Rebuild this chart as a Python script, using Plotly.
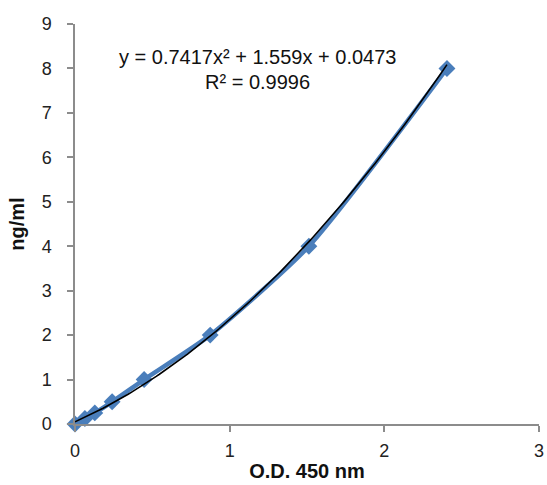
import numpy as np
import plotly.graph_objects as go

od450 = [0.0, 0.064, 0.128, 0.24, 0.447, 0.874, 1.512, 2.405]
conc = [0.0, 0.125, 0.25, 0.5, 1.0, 2.0, 4.0, 8.0]
trend_coef = [0.7417, 1.559, 0.0473]  # from the equation shown on the chart
x_ticks = [0, 1, 2, 3]
y_ticks = [0, 1, 2, 3, 4, 5, 6, 7, 8, 9]

xt = np.linspace(0, max(od450), 120)
yt = trend_coef[0] * xt**2 + trend_coef[1] * xt + trend_coef[2]

FONT = "Liberation Sans, Arial"

fig = go.Figure()
fig.add_trace(go.Scatter(
    x=od450, y=conc, mode="lines+markers",
    line=dict(color="#4A7EBB", width=4.5, shape="spline", smoothing=0.6),
    marker=dict(symbol="diamond", size=13, color="#4A7EBB"),
    showlegend=False, cliponaxis=False))
fig.add_trace(go.Scatter(
    x=xt, y=yt, mode="lines", line=dict(color="black", width=1.6),
    showlegend=False, cliponaxis=False))

fig.add_annotation(x=1.18, y=8.26, xref="x", yref="y",
                   text="y = 0.7417x² + 1.559x + 0.0473",
                   showarrow=False, font=dict(size=20, color="#111", family=FONT))
fig.add_annotation(x=1.18, y=7.7, xref="x", yref="y",
                   text="R² = 0.9996",
                   showarrow=False, font=dict(size=20, color="#111", family=FONT))

axis_common = dict(showgrid=False, zeroline=False, showline=True, automargin=False,
                   linecolor="#8c8c8c", linewidth=1.5,
                   ticks="outside", tickcolor="#8c8c8c", ticklen=6, tickwidth=1.5,
                   ticklabeloverflow="allow",
                   tickfont=dict(size=18, color="#222", family=FONT))

fig.update_xaxes(range=[0, 3], tickvals=x_ticks, **axis_common,
                 ticklabelstandoff=4,
                 title=dict(text="<b>O.D. 450 nm</b>", standoff=4,
                            font=dict(size=20, color="#111", family=FONT)))
fig.update_yaxes(range=[0, 9], tickvals=y_ticks, **axis_common,
                 ticklabelstandoff=12,
                 title=dict(text="<b>ng/ml</b>", standoff=12,
                            font=dict(size=20, color="#111", family=FONT)))

fig.update_layout(width=547, height=485,
                  margin=dict(l=75, r=8, t=24, b=61),
                  plot_bgcolor="white", paper_bgcolor="white",
                  font=dict(family=FONT))

fig.write_html("out.html", config={"displayModeBar": False},
               post_script="document.body.style.margin='0px';document.body.style.overflow='hidden';")
